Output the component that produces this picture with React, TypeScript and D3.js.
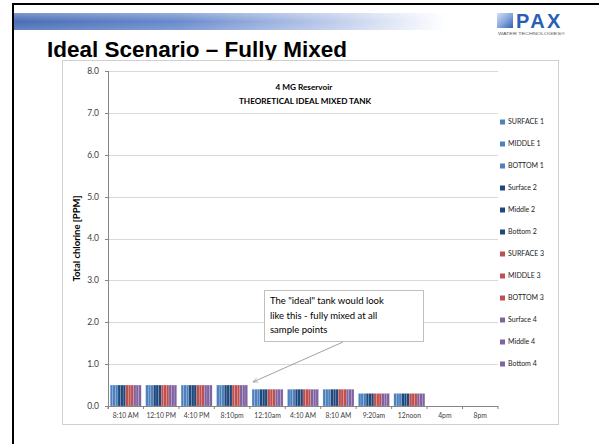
import React from "react";
import * as d3 from "d3";

// Sampling times along the x axis (keys must be unique, labels may repeat)
const categories = [
  "t1", "t2", "t3", "t4", "t5", "t6", "t7", "t8", "t9", "t10", "t11",
];
const categoryLabels = [
  "8:10 AM", "12:10 PM", "4:10 PM", "8:10pm", "12:10am", "4:10 AM",
  "8:10 AM", "9:20am", "12noon", "4pm", "8pm",
];

// Sample points (depth x station)
const seriesNames = [
  "SURFACE 1", "MIDDLE 1", "BOTTOM 1",
  "Surface 2", "Middle 2", "Bottom 2",
  "SURFACE 3", "MIDDLE 3", "BOTTOM 3",
  "Surface 4", "Middle 4", "Bottom 4",
];
const seriesColors = [
  "#4f81bd", "#4f81bd", "#4f81bd",
  "#1f497d", "#1f497d", "#1f497d",
  "#c0504d", "#c0504d", "#c0504d",
  "#8064a2", "#8064a2", "#8064a2",
];

// Chlorine readings per time, identical at every sample point (fully mixed)
const mixedLevel = [0.5, 0.5, 0.5, 0.5, 0.4, 0.4, 0.4, 0.3, 0.3, null, null];
const seriesValues: (number | null)[][] = seriesNames.map(() => mixedLevel.slice());

const yTicks = [0, 1, 2, 3, 4, 5, 6, 7, 8];

const calloutLines = [
  "The \"ideal\" tank would look",
  "like this - fully mixed at all",
  "sample points",
];

const W = 599;
const H = 444;
const plot = { left: 108, right: 498, top: 71, bottom: 406 };

export default function App() {
  const x = d3
    .scaleBand<string>()
    .domain(categories)
    .range([plot.left, plot.right])
    .paddingInner(0.125)
    .paddingOuter(0.0625);
  const xs = d3
    .scaleBand<string>()
    .domain(seriesNames)
    .range([0, x.bandwidth()])
    .padding(0);
  const y = d3.scaleLinear().domain([0, 8]).range([plot.bottom, plot.top]);
  const step = (plot.right - plot.left) / categories.length;

  const chartFont = "Lato, 'Open Sans', sans-serif";
  const slideFont = "'Liberation Sans', Arial, sans-serif";

  return (
    <div style={{ position: "absolute", left: 0, top: 0 }}>
      <svg width={W} height={H} style={{ display: "block", background: "#fff" }}>
        <defs>
          <linearGradient id="band" x1="0" x2="1" y1="0" y2="0">
            <stop offset="0" stopColor="#4a6db6" />
            <stop offset="0.35" stopColor="#6a8bcd" />
            <stop offset="0.65" stopColor="#b6c6e8" />
            <stop offset="0.92" stopColor="#ffffff" />
          </linearGradient>
          <linearGradient id="bandV" x1="0" x2="0" y1="0" y2="1">
            <stop offset="0" stopColor="#ffffff" stopOpacity="0.3" />
            <stop offset="0.5" stopColor="#ffffff" stopOpacity="0" />
            <stop offset="1" stopColor="#ffffff" stopOpacity="0.15" />
          </linearGradient>
          <linearGradient id="logoSq" x1="0" x2="1" y1="0" y2="1">
            <stop offset="0" stopColor="#d3e0f4" />
            <stop offset="0.5" stopColor="#8aa9de" />
            <stop offset="1" stopColor="#2f5fb5" />
          </linearGradient>
          <marker id="arrow" viewBox="0 0 10 10" refX="9" refY="5" markerWidth="7" markerHeight="7" orient="auto-start-reverse">
            <path d="M0,1 L9,5 L0,9" fill="none" stroke="#8a8a8a" strokeWidth="1" />
          </marker>
        </defs>

        {/* slide frame */}
        <rect x={13} y={4} width={W} height={H} fill="none" stroke="#000" strokeWidth={2} />

        {/* header band */}
        <rect x={14} y={13} width={470} height={17} fill="url(#band)" />
        <rect x={14} y={13} width={470} height={17} fill="url(#bandV)" />

        {/* logo */}
        <rect x={497} y={13} width={16} height={15} fill="url(#logoSq)" />
        <text x={516} y={28} fontFamily={slideFont} fontWeight="bold" fontSize={20} fill="#2b5fb4" letterSpacing={2.4}>PAX</text>
        <text x={498} y={35} fontFamily={slideFont} fontSize={4.4} fill="#555" textLength={67} lengthAdjust="spacingAndGlyphs">WATER TECHNOLOGIES®</text>

        {/* slide title */}
        <text x={47} y={57} fontFamily={slideFont} fontWeight="bold" fontSize={22.5} fill="#000">
          Ideal Scenario – Fully Mixed
        </text>

        {/* chart area */}
        <rect x={62.5} y={60.5} width={496} height={364} fill="#fff" stroke="#d0d0d0" strokeWidth={1} />

        {/* gridlines */}
        {yTicks.filter((t) => t > 0).map((t) => (
          <line key={t} x1={plot.left} x2={plot.right} y1={Math.round(y(t)) + 0.5} y2={Math.round(y(t)) + 0.5} stroke="#d9d9d9" strokeWidth={1} />
        ))}

        {/* y tick labels */}
        {yTicks.map((t) => (
          <text key={t} x={99} y={y(t)} dy="0.35em" textAnchor="end" fontFamily={chartFont} fontSize={8.5} fill="#404040">
            {t.toFixed(1)}
          </text>
        ))}

        {/* y axis title */}
        <text transform={`translate(80, ${(plot.top + plot.bottom) / 2}) rotate(-90)`} textAnchor="middle" fontFamily={chartFont} fontWeight="bold" fontSize={9.5} fill="#000">
          Total chlorine [PPM]
        </text>

        {/* bars */}
        {seriesNames.map((s, si) => (
          <g key={s} fill={seriesColors[si]}>
            {categories.map((c, ci) => {
              const v = seriesValues[si][ci];
              if (v == null) return null;
              const bx = (x(c) as number) + (xs(s) as number);
              return (
                <rect key={c} x={bx} y={y(v)} width={xs.bandwidth()} height={y(0) - y(v)} stroke="#ffffff" strokeOpacity={0.35} strokeWidth={0.4} />
              );
            })}
          </g>
        ))}

        {/* axes */}
        <line x1={plot.left + 0.5} x2={plot.left + 0.5} y1={plot.top} y2={plot.bottom + 3} stroke="#868686" strokeWidth={1} />
        <line x1={plot.left - 3} x2={plot.right} y1={plot.bottom + 0.5} y2={plot.bottom + 0.5} stroke="#868686" strokeWidth={1} />
        {d3.range(categories.length + 1).map((i) => (
          <line key={i} x1={plot.left + i * step} x2={plot.left + i * step} y1={plot.bottom} y2={plot.bottom + 3} stroke="#868686" strokeWidth={1} />
        ))}
        {yTicks.map((t) => (
          <line key={t} x1={plot.left - 3} x2={plot.left} y1={Math.round(y(t)) + 0.5} y2={Math.round(y(t)) + 0.5} stroke="#868686" strokeWidth={1} />
        ))}

        {/* x tick labels */}
        {categories.map((c, i) => (
          <text key={c} x={(x(c) as number) + x.bandwidth() / 2} y={416} dy="0.35em" textAnchor="middle" fontFamily={chartFont} fontSize={6.8} fill="#404040">
            {categoryLabels[i]}
          </text>
        ))}

        {/* chart title */}
        <text x={304} y={90} textAnchor="middle" fontFamily={chartFont} fontWeight="bold" fontSize={8.2} fill="#000">4 MG Reservoir</text>
        <text x={305} y={104} textAnchor="middle" fontFamily={chartFont} fontWeight="bold" fontSize={8.2} fill="#000">THEORETICAL IDEAL MIXED TANK</text>

        {/* legend */}
        {seriesNames.map((s, i) => {
          const ly = 122 + i * 22;
          return (
            <g key={s}>
              <rect x={500} y={ly - 2.5} width={5} height={5} fill={seriesColors[i]} />
              <text x={508} y={ly} dy="0.35em" fontFamily={chartFont} fontSize={7} fill="#222">{s}</text>
            </g>
          );
        })}

        {/* callout */}
        <line x1={343} y1={342} x2={253} y2={382} stroke="#8a8a8a" strokeWidth={0.8} markerEnd="url(#arrow)" />
        <rect x={264.5} y={290.5} width={159} height={51} fill="#fff" stroke="#bfbfbf" strokeWidth={1} />
        {calloutLines.map((line, i) => (
          <text key={i} x={270} y={301 + i * 14.2} dy="0.35em" fontFamily={chartFont} fontSize={9.5} fill="#000">{line}</text>
        ))}
      </svg>
    </div>
  );
}
